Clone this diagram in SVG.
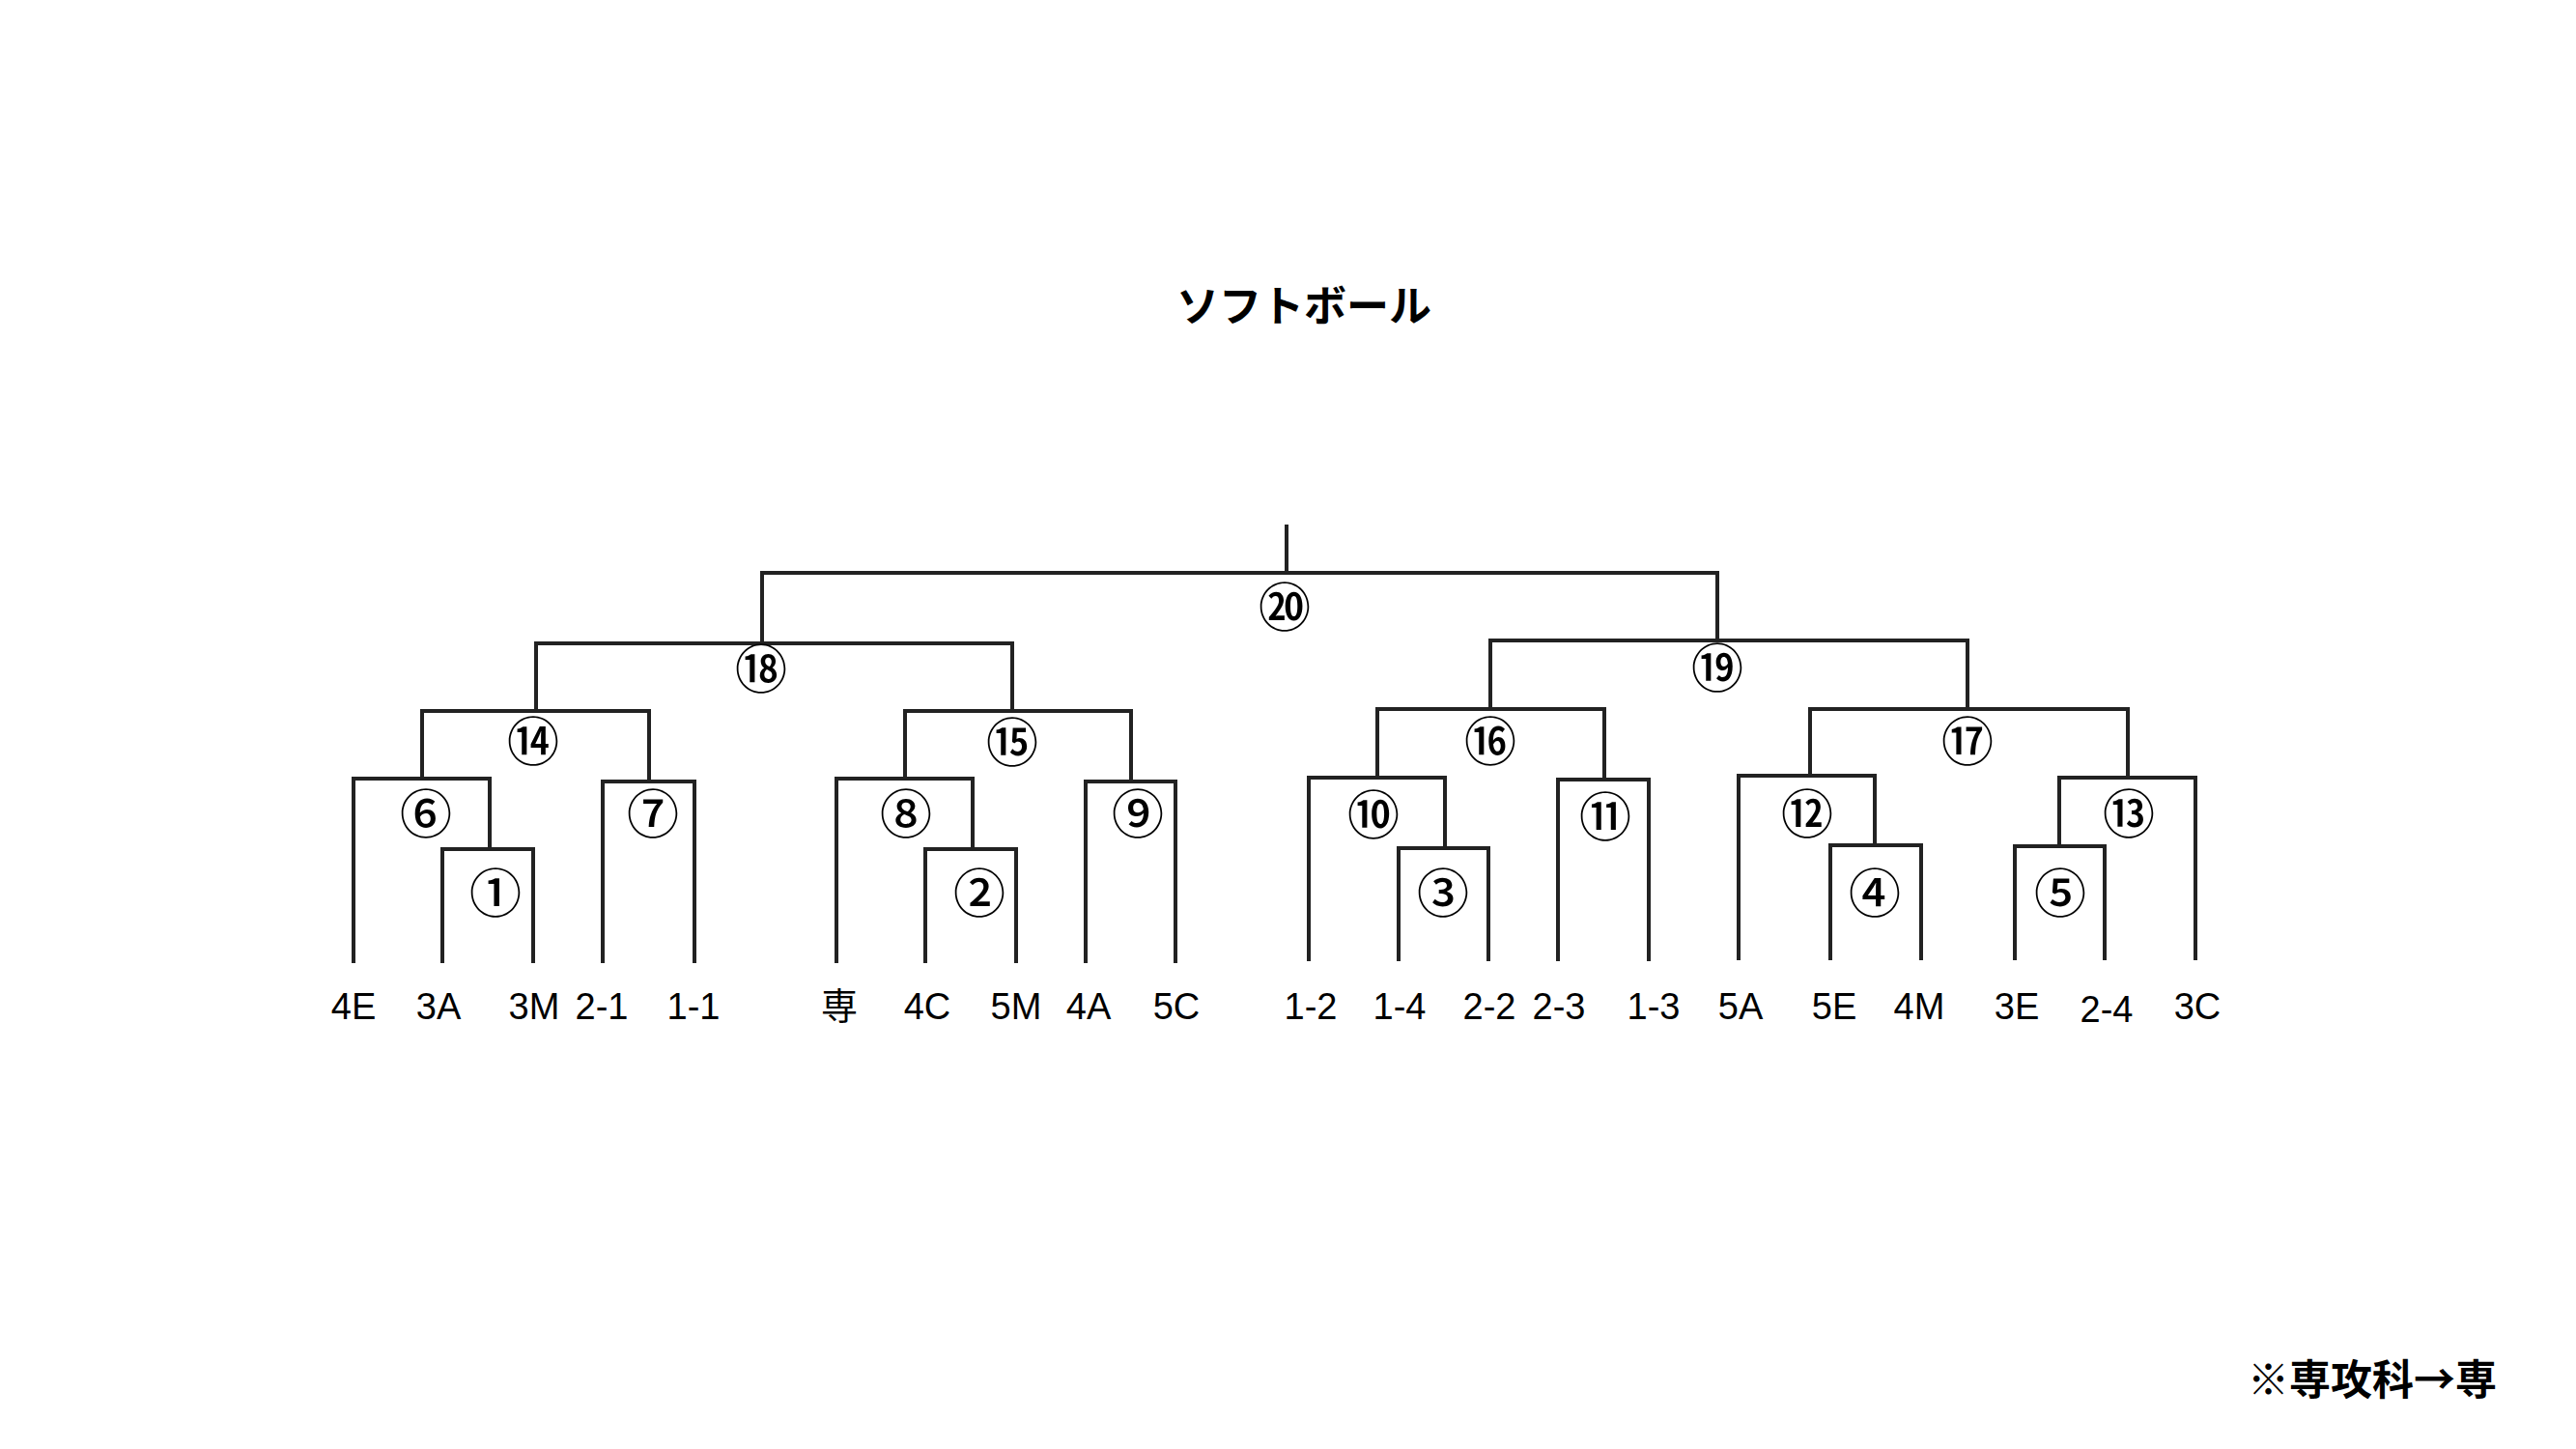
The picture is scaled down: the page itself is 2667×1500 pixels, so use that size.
<svg xmlns="http://www.w3.org/2000/svg" width="2667" height="1500" viewBox="0 0 2667 1500">
<style>
.c{fill:none;stroke:#222;stroke-width:4;stroke-linecap:square}
.m{font-family:"Noto Sans CJK JP",sans-serif;font-size:54px;font-weight:500;fill:#000;text-anchor:middle;dominant-baseline:central}
.t{font-family:"Liberation Sans","Noto Sans CJK JP",sans-serif;font-size:38px;fill:#000;text-anchor:middle}
.h{font-family:"Noto Sans CJK JP",sans-serif;font-weight:bold;fill:#000}
</style>
<rect width="2667" height="1500" fill="#fff"/>
<text class="h" x="1350" y="333" font-size="44" text-anchor="middle">ソフトボール</text>
<text class="h" x="2327" y="1444" font-size="43">※専攻科→専</text>
<g id="connectors">
<path class="c" d="M1332 545V593M789 593H1778"/>
<path class="c" d="M789 593V666M555 666H1048M1778 593V663M1543 663H2037"/>
<path class="c" d="M555 666V736M437 736H672M1048 666V736M937 736H1171M1543 663V734M1426 734H1661M2037 663V734M1874 734H2203"/>
<path class="c" d="M437 736V806M366 806H507M672 736V809M624 809H719M937 736V806M866 806H1007M1171 736V809M1124 809H1217"/>
<path class="c" d="M1426 734V805M1355 805H1496M1661 734V807M1613 807H1707M1874 734V803M1800 803H1941M2203 734V805M2132 805H2273"/>
<path class="c" d="M507 806V879M458 879H552M1007 806V879M958 879H1052M1496 805V878M1448 878H1541M1941 803V875M1895 875H1989M2132 805V876M2086 876H2179"/>
<path class="c" d="M366 806V995M458 879V995M552 879V995M624 809V995M719 809V995M866 806V995M958 879V995M1052 879V995M1124 809V995M1217 809V995"/>
<path class="c" d="M1355 805V993M1448 878V993M1541 878V993M1613 807V993M1707 807V993M1800 803V992M1895 875V992M1989 875V992M2086 876V992M2179 876V992M2273 805V992"/>
</g>
<g id="m20"><text class="m" x="1330" y="625">⑳</text></g>
<g id="m18"><text class="m" x="788" y="689">⑱</text></g>
<g id="m19"><text class="m" x="1778" y="688">⑲</text></g>
<g id="m14"><text class="m" x="552" y="764">⑭</text></g>
<g id="m15"><text class="m" x="1048" y="765">⑮</text></g>
<g id="m16"><text class="m" x="1543" y="764">⑯</text></g>
<g id="m17"><text class="m" x="2037" y="764">⑰</text></g>
<g id="m6"><text class="m" x="441" y="839">⑥</text></g>
<g id="m7"><text class="m" x="676" y="839">⑦</text></g>
<g id="m8"><text class="m" x="938" y="839">⑧</text></g>
<g id="m9"><text class="m" x="1178" y="839">⑨</text></g>
<g id="m10"><text class="m" x="1422" y="840">⑩</text></g>
<g id="m11"><text class="m" x="1662" y="842">⑪</text></g>
<g id="m12"><text class="m" x="1871" y="839">⑫</text></g>
<g id="m13"><text class="m" x="2204" y="839">⑬</text></g>
<g id="m1"><text class="m" x="513" y="921">①</text></g>
<g id="m2"><text class="m" x="1014" y="921">②</text></g>
<g id="m3"><text class="m" x="1494" y="921">③</text></g>
<g id="m4"><text class="m" x="1941" y="921">④</text></g>
<g id="m5"><text class="m" x="2133" y="921">⑤</text></g>
<g id="team-4E"><text class="t" x="366" y="1055">4E</text></g>
<g id="team-3A"><text class="t" x="454" y="1055">3A</text></g>
<g id="team-3M"><text class="t" x="553" y="1055">3M</text></g>
<g id="team-2-1"><text class="t" x="623" y="1055">2-1</text></g>
<g id="team-1-1"><text class="t" x="718" y="1055">1-1</text></g>
<g id="team-sen"><text class="t" x="869" y="1055">専</text></g>
<g id="team-4C"><text class="t" x="960" y="1055">4C</text></g>
<g id="team-5M"><text class="t" x="1052" y="1055">5M</text></g>
<g id="team-4A"><text class="t" x="1127" y="1055">4A</text></g>
<g id="team-5C"><text class="t" x="1218" y="1055">5C</text></g>
<g id="team-1-2"><text class="t" x="1357" y="1055">1-2</text></g>
<g id="team-1-4"><text class="t" x="1449" y="1055">1-4</text></g>
<g id="team-2-2"><text class="t" x="1542" y="1055">2-2</text></g>
<g id="team-2-3"><text class="t" x="1614" y="1055">2-3</text></g>
<g id="team-1-3"><text class="t" x="1712" y="1055">1-3</text></g>
<g id="team-5A"><text class="t" x="1802" y="1055">5A</text></g>
<g id="team-5E"><text class="t" x="1899" y="1055">5E</text></g>
<g id="team-4M"><text class="t" x="1987" y="1055">4M</text></g>
<g id="team-3E"><text class="t" x="2088" y="1055">3E</text></g>
<g id="team-2-4"><text class="t" x="2181" y="1058">2-4</text></g>
<g id="team-3C"><text class="t" x="2275" y="1055">3C</text></g>
</svg>
